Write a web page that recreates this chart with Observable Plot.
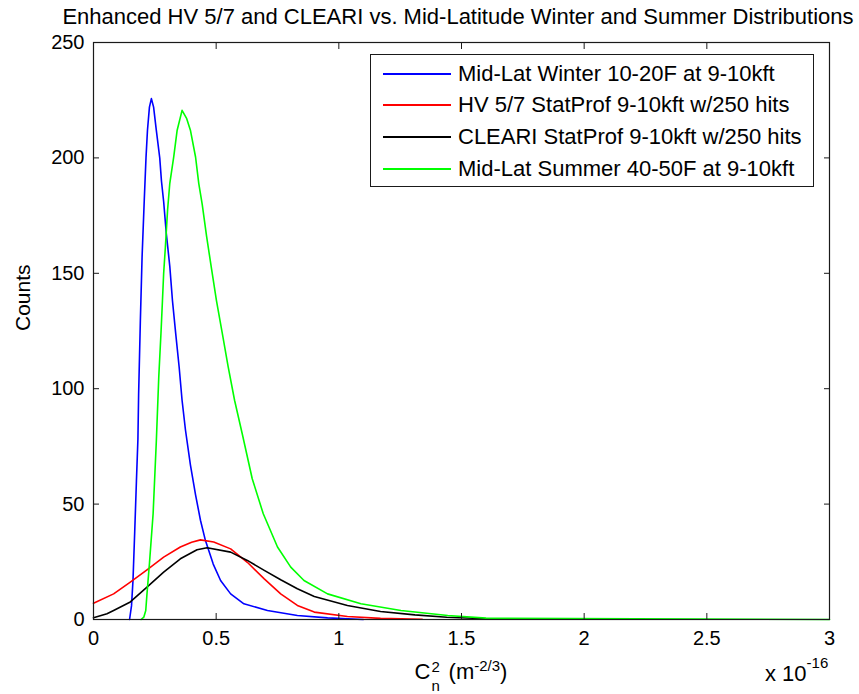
<!DOCTYPE html>
<html><head><meta charset="utf-8">
<script src="https://cdn.jsdelivr.net/npm/d3@7"></script>
<script src="https://cdn.jsdelivr.net/npm/@observablehq/plot@0.6"></script>
<style>
html,body{margin:0;padding:0;background:#fff;}
#wrap{position:relative;width:859px;height:694px;font-family:"Liberation Sans",Arial,sans-serif;color:#000;overflow:hidden;}
#title{height:30px;line-height:33px;font-size:22px;text-align:center;padding-left:57px;box-sizing:border-box;width:859px;white-space:nowrap;}
#legend{position:absolute;left:370px;top:54px;width:444px;height:133px;box-sizing:border-box;border:1px solid #1a1a1a;background:#fff;padding-top:3px;z-index:2;}
.row{display:flex;align-items:center;height:31.6px;font-size:22px;line-height:24px;white-space:nowrap;}
.sw{display:block;width:68px;height:2px;margin-left:12px;}
.lt{margin-left:7px;}
#xlabel{position:absolute;left:93px;width:736px;top:657px;text-align:center;font-size:22px;line-height:24px;z-index:2;white-space:nowrap;}
.stk{display:inline-block;position:relative;width:12px;height:22px;}
.stk span{position:absolute;left:1px;font-size:15px;line-height:12px;}
.up{position:relative;font-size:15px;}
#xexp{position:absolute;left:765px;top:662px;font-size:22px;line-height:24px;z-index:2;white-space:nowrap;}
</style>
</head><body>
<div id="wrap">
  <div id="title">Enhanced HV 5/7 and CLEARI vs. Mid-Latitude Winter and Summer Distributions</div>
  <div id="plot"></div>
  <div id="legend"></div>
  <div id="xlabel">C<span class="stk"><span style="top:4px">2</span><span style="top:22.5px">n</span></span> (m<span class="up" style="top:-8px">-2/3</span>)</div>
  <div id="xexp">x 10<span class="up" style="top:-13px">-16</span></div>
</div>
<script>
// Tick values / labels
const xTicks = [0, 0.5, 1, 1.5, 2, 2.5, 3];
const xTickLabels = ["0", "0.5", "1", "1.5", "2", "2.5", "3"];
const yTicks = [0, 50, 100, 150, 200, 250];

// Series names and colours
const seriesNames = [
  "Mid-Lat Winter 10-20F at 9-10kft",
  "HV 5/7 StatProf 9-10kft w/250 hits",
  "CLEARI StatProf 9-10kft w/250 hits",
  "Mid-Lat Summer 40-50F at 9-10kft"
];
const seriesColors = ["#0000ff", "#ff0000", "#000000", "#00ff00"];

// Mid-Lat Winter (x in units of 1e-16)
const winterX = [0.147, 0.155, 0.161, 0.168, 0.175, 0.181, 0.184, 0.191, 0.198, 0.207, 0.214, 0.220, 0.228, 0.236, 0.245, 0.256, 0.270, 0.277, 0.286, 0.297, 0.311, 0.322, 0.335, 0.349, 0.361, 0.375, 0.395, 0.416, 0.436, 0.456, 0.488, 0.518, 0.559, 0.613, 0.709, 0.831, 0.954, 1.1];
const winterY = [0, 6, 17, 38, 60, 78, 98, 129.5, 157, 182, 200, 212, 222, 225.7, 222, 212, 200, 190, 181, 167, 153, 138, 124, 109.5, 95, 82, 67, 54, 43, 34.3, 24, 16.9, 11.1, 6.8, 3.9, 1.7, 0.7, 0];

// HV 5/7 StatProf
const hvX = [0, 0.082, 0.15, 0.218, 0.286, 0.354, 0.40, 0.436, 0.49, 0.559, 0.627, 0.696, 0.763, 0.831, 0.9, 1.035, 1.17, 1.34];
const hvY = [7.0, 11.1, 16.2, 21.5, 27, 31.4, 33.5, 34.5, 33.6, 30.6, 24.8, 17.6, 11.1, 6.1, 3.2, 1.3, 0.5, 0.1];

// CLEARI StatProf
const cleariX = [0, 0.055, 0.082, 0.15, 0.218, 0.286, 0.354, 0.422, 0.463, 0.559, 0.627, 0.696, 0.763, 0.831, 0.9, 1.035, 1.17, 1.31, 1.44, 1.6];
const cleariY = [0.8, 2.5, 3.9, 7.6, 14, 20.5, 26.3, 30.2, 31.1, 29.2, 25.6, 21.3, 17.2, 13.3, 10, 6.1, 3.5, 2, 1, 0.3];

// Mid-Lat Summer
const summerX = [0.194, 0.205, 0.213, 0.218, 0.228, 0.243, 0.256, 0.266, 0.275, 0.281, 0.286, 0.293, 0.302, 0.311, 0.327, 0.341, 0.361, 0.380, 0.395, 0.416, 0.429, 0.443, 0.461, 0.481, 0.501, 0.525, 0.549, 0.575, 0.606, 0.647, 0.692, 0.75, 0.804, 0.858, 0.954, 1.09, 1.253, 1.444, 1.6, 3.0];
const summerY = [0, 1, 3.9, 11.1, 24.2, 45.8, 77, 105, 124, 138, 150, 161.4, 177.5, 189, 200.4, 212, 220.6, 217, 212, 200.4, 189, 180, 166, 152, 138.3, 124, 109.5, 95, 80.6, 61, 45.8, 31.4, 22.7, 16.9, 11.1, 6.8, 3.9, 1.7, 0.6, 0];

const toRows = (xs, ys) => xs.map((x, i) => ({x, y: ys[i]}));
const series = [
  toRows(winterX, winterY),
  toRows(hvX, hvY),
  toRows(cleariX, cleariY),
  toRows(summerX, summerY)
];

const axisColor = "#1a1a1a";
const chart = Plot.plot({
  width: 859,
  height: 664,
  marginTop: 12,
  marginLeft: 93,
  marginRight: 30,
  marginBottom: 75,
  style: {fontFamily: "Liberation Sans, Arial, sans-serif", fontSize: "20px", color: "#000", background: "transparent"},
  x: {domain: [0, 3], label: null},
  y: {domain: [0, 250], label: null},
  marks: [
    ...series.map((d, i) => Plot.line(d, {x: "x", y: "y", stroke: seriesColors[i], strokeWidth: 1.6})),
    Plot.frame({stroke: axisColor, strokeWidth: 1.2}),
    Plot.axisX(xTicks, {anchor: "bottom", tickSize: -6, tickFormat: () => "", stroke: axisColor}),
    Plot.axisX(xTicks, {anchor: "top", tickSize: -6, tickFormat: () => "", stroke: axisColor}),
    Plot.axisX(xTicks, {anchor: "bottom", tickSize: 0, tickPadding: 11, tickFormat: (d, i) => xTickLabels[i]}),
    Plot.axisY(yTicks, {anchor: "left", tickSize: -6, tickFormat: () => "", stroke: axisColor}),
    Plot.axisY(yTicks, {anchor: "right", tickSize: -6, tickFormat: () => "", stroke: axisColor}),
    Plot.axisY(yTicks, {anchor: "left", tickSize: 0, tickPadding: 9}),
    Plot.text(["Counts"], {frameAnchor: "left", rotate: -90, dx: -70, fontSize: 21})
  ]
});
document.getElementById("plot").appendChild(chart);

// Legend
const legend = document.getElementById("legend");
seriesNames.forEach((name, i) => {
  const row = document.createElement("div");
  row.className = "row";
  const sw = document.createElement("span");
  sw.className = "sw";
  sw.style.background = seriesColors[i];
  const t = document.createElement("span");
  t.className = "lt";
  t.textContent = name;
  row.appendChild(sw);
  row.appendChild(t);
  legend.appendChild(row);
});
</script>
</body></html>
